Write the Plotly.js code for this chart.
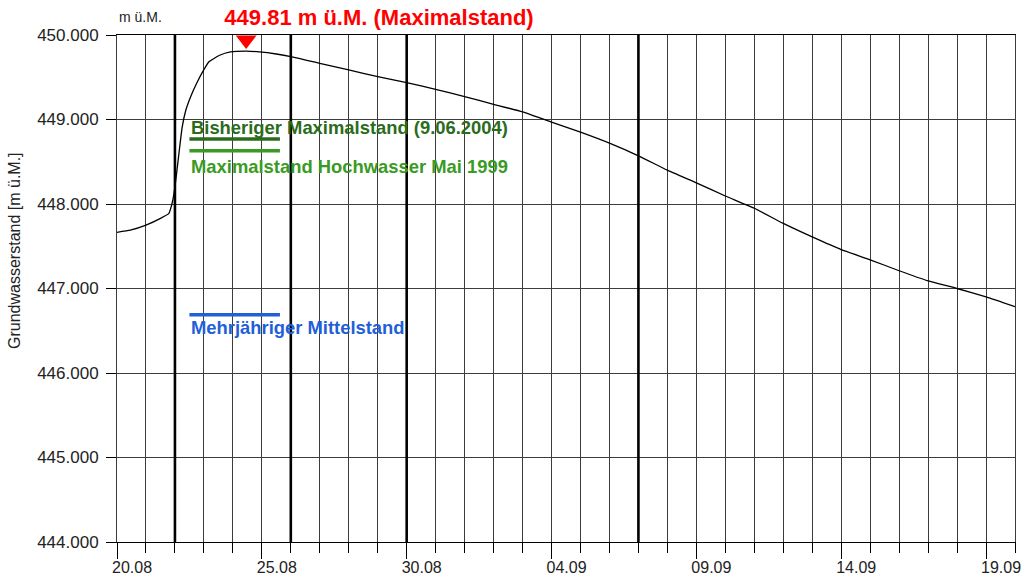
<!DOCTYPE html>
<html>
<head>
<meta charset="utf-8">
<script src="https://cdn.plot.ly/plotly-3.0.1.min.js"></script>
<style>html,body{margin:0;padding:0;background:#fff;}#chart{width:1027px;height:577px;}</style>
</head>
<body>
<div id="chart"></div>
<script>
// ---- Data ----
const dates = [
  "2005-08-20 00:00","2005-08-20 11:00","2005-08-21 00:00","2005-08-21 12:00","2005-08-21 19:00",
  "2005-08-21 22:00","2005-08-22 00:00","2005-08-22 03:00","2005-08-22 06:00","2005-08-22 09:00",
  "2005-08-22 13:00","2005-08-22 18:00","2005-08-23 00:00","2005-08-23 04:00","2005-08-23 13:00",
  "2005-08-23 22:00","2005-08-24 11:00","2005-08-24 22:00","2005-08-25 12:00","2005-08-26 00:00",
  "2005-08-27 00:00","2005-08-28 00:00","2005-08-29 00:00","2005-08-30 00:00","2005-08-31 00:00",
  "2005-09-01 00:00","2005-09-02 00:00","2005-09-03 00:00","2005-09-04 00:00","2005-09-05 00:00",
  "2005-09-06 00:00","2005-09-07 00:00","2005-09-08 00:00","2005-09-09 00:00","2005-09-10 00:00",
  "2005-09-11 00:00","2005-09-12 00:00","2005-09-13 00:00","2005-09-14 00:00","2005-09-15 00:00",
  "2005-09-16 00:00","2005-09-17 00:00","2005-09-18 00:00","2005-09-19 00:00","2005-09-20 00:00"
];
const levels = [
  447.665, 447.69, 447.75, 447.83, 447.89,
  448.03, 448.20, 448.56, 448.91, 449.11,
  449.27, 449.43, 449.59, 449.68, 449.76,
  449.80, 449.81, 449.80, 449.775, 449.745,
  449.665, 449.586, 449.507, 449.436, 449.357,
  449.27, 449.18, 449.09, 448.97, 448.85,
  448.72, 448.57, 448.40, 448.25, 448.095,
  447.95, 447.77, 447.61, 447.46, 447.34,
  447.21, 447.09, 447.00, 446.90, 446.785
];

// Reference levels (short segments)
const refNames  = ["Bisheriger Maximalstand (9.06.2004)", "Maximalstand Hochwasser Mai 1999", "Mehrjähriger Mittelstand"];
const refLevels = [448.77, 448.63, 446.69];
const refStart  = "2005-08-22 12:00";
const refEnd    = "2005-08-25 15:00";

// Highlighted days (thick vertical lines)
const markedDates = ["2005-08-22", "2005-08-26", "2005-08-30", "2005-09-07"];

// Axis ticks
const xTickVals  = ["2005-08-20","2005-08-25","2005-08-30","2005-09-04","2005-09-09","2005-09-14","2005-09-19"];
const xTickText  = ["20.08","25.08","30.08","04.09","09.09","14.09","19.09"];
const yTickVals  = [444, 445, 446, 447, 448, 449, 450];
const yTickText  = ["444.000","445.000","446.000","447.000","448.000","449.000","450.000"];

// ---- Styles ----
const FONT = "Liberation Sans, Arial, Helvetica, sans-serif";
const refColors = ["#2b6b1c", "#3a9a24", "#1f5fd8"];
const refTextShift = [11.5, -15.5, -13];
const GRID = "#3c3c3c";
const X_RANGE = ["2005-08-20 00:00", "2005-09-20 00:00"];
const Y_RANGE = [444, 450];

let maxIdx = 0;
levels.forEach((v, i) => { if (v > levels[maxIdx]) maxIdx = i; });
const maxDate = dates[maxIdx], maxVal = levels[maxIdx];

const traces = [];
refLevels.forEach((lv, i) => {
  traces.push({
    x: [refStart, refEnd], y: [lv, lv], mode: "lines", type: "scatter",
    line: {color: refColors[i], width: 3.5}, hoverinfo: "skip", showlegend: false
  });
});
traces.push({
  x: dates, y: levels, mode: "lines", type: "scatter",
  line: {color: "#000", width: 1.3, shape: "spline", smoothing: 0.4}, showlegend: false
});
traces.push({
  x: [maxDate], y: [Y_RANGE[1] - 0.06], mode: "markers", type: "scatter", cliponaxis: false,
  marker: {symbol: "triangle-down", size: 18, color: "#ff0000", line: {width: 0}}, showlegend: false
});

const shapes = markedDates.map(d => ({
  type: "line", xref: "x", yref: "paper", x0: d, x1: d, y0: 0, y1: 1,
  line: {color: "#000", width: 2.6}, layer: "above"
}));

const annotations = refLevels.map((lv, i) => ({
  x: refStart, y: lv, xref: "x", yref: "y", xanchor: "left", yanchor: "middle",
  yshift: refTextShift[i], showarrow: false,
  text: "<b>" + refNames[i] + "</b>", font: {family: FONT, size: 18.4, color: refColors[i]}
}));
annotations.push({
  text: "Grundwasserstand [m ü.M.]", textangle: -90, showarrow: false,
  xref: "paper", yref: "paper", x: -0.1136, y: 0.576, xanchor: "center", yanchor: "middle",
  font: {family: FONT, size: 16, color: "#222"}
});
annotations.push({
  text: "m ü.M.", showarrow: false, xref: "paper", yref: "paper",
  x: 0, y: 1, xanchor: "left", yanchor: "bottom", yshift: 8,
  font: {family: FONT, size: 14, color: "#222"}
});

const layout = {
  width: 1027, height: 577,
  margin: {l: 117, r: 12, t: 35, b: 35},
  paper_bgcolor: "#fff", plot_bgcolor: "#fff",
  showlegend: false,
  title: {
    text: "<b>" + maxVal.toFixed(2) + " m ü.M. (Maximalstand)</b>",
    xref: "container", yref: "container", x: 379 / 1027, y: 1 - 17 / 577,
    xanchor: "center", yanchor: "middle",
    font: {family: FONT, size: 22, color: "#ff0000"}
  },
  xaxis: {
    type: "date", range: X_RANGE, tickmode: "array", tickvals: xTickVals, ticktext: xTickText,
    ticks: "outside", ticklen: 16, tickcolor: "#000", tickwidth: 1,
    ticklabelshift: 15, ticklabelstandoff: -5,
    showgrid: true, gridcolor: GRID, gridwidth: 1,
    minor: {ticks: "outside", ticklen: 10, tickcolor: "#000", dtick: 86400000, tick0: "2005-08-20",
            showgrid: true, gridcolor: GRID, gridwidth: 1},
    showline: true, linecolor: "#000", linewidth: 1, mirror: true,
    zeroline: false, fixedrange: true,
    tickfont: {family: FONT, size: 16, color: "#222"}
  },
  yaxis: {
    range: Y_RANGE, tickmode: "array", tickvals: yTickVals, ticktext: yTickText,
    ticks: "outside", ticklen: 10, tickcolor: "#000",
    ticklabelstandoff: 4,
    showgrid: true, gridcolor: GRID, gridwidth: 1,
    showline: true, linecolor: GRID, linewidth: 1, mirror: true,
    zeroline: false, fixedrange: true,
    tickfont: {family: FONT, size: 17, color: "#222"}
  },
  shapes: shapes,
  annotations: annotations
};

Plotly.newPlot("chart", traces, layout, {displayModeBar: false, staticPlot: true});
</script>
</body>
</html>
